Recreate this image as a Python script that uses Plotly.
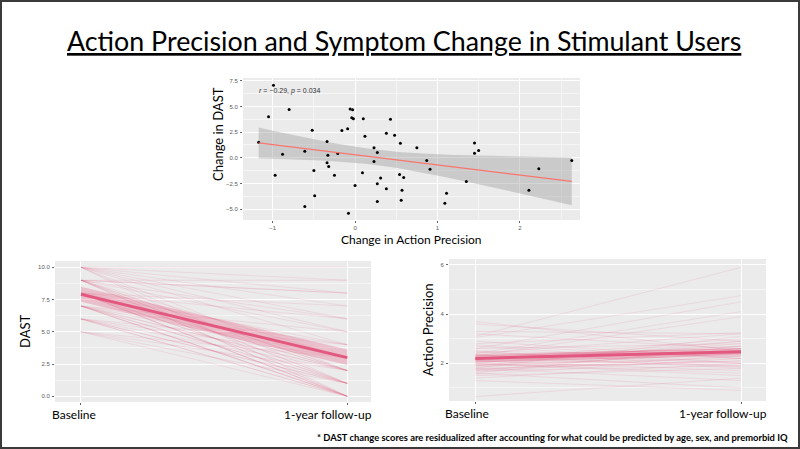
import numpy as np
import plotly.graph_objects as go

# ---------------- data ----------------
# Scatter: change in action precision vs change in DAST (residualized)
ap_change = [-0.99, -1.05, -0.80, -1.17, -0.88, -0.97, -0.52, -0.61, -0.50, -0.49,
             -0.61, -0.34, -0.33, -0.34, -0.32, -0.21, -0.25, -0.16, -0.09, -0.06,
             -0.03, -0.04, -0.02, 0.10, 0.12, 0.00, 0.09, -0.08, 0.23, 0.27,
             0.23, 0.27, 0.31, 0.27, 0.38, 0.43, 0.48, 0.38, 0.55, 0.54,
             0.59, 0.57, 0.56, 0.75, 0.87, 0.91, 1.11, 1.09, 1.35, 1.45,
             1.45, 1.50, 2.11, 2.23, 2.63]
dast_change = [7.06, 4.00, 4.71, 1.52, 0.35, -1.68, 2.68, 0.65, -1.23, -3.68,
               -4.74, 1.58, 0.26, -0.48, -0.84, 0.42, -1.68, 2.65, 2.84, 4.74,
               4.68, 3.90, 3.81, 3.81, 2.10, -2.68, -1.45, -5.39, 0.97, 0.52,
               -0.35, -2.52, -1.97, -4.23, 2.39, 3.74, 2.19, -3.00, 1.42, -1.61,
               -1.90, -3.16, -4.13, 0.97, -0.26, -1.10, -3.45, -4.42, -2.29, 1.45,
               0.45, 0.71, -3.16, -1.06, -0.26]
stat_text = "<i>r</i> = \u22120.29, <i>p</i> = 0.034"

timepoints = ["Baseline", "1-year follow-up"]

# DAST per subject
dast_base = [10]*10 + [9]*12 + [8]*12 + [7]*10 + [6]*7 + [5]*4
dast_follow = ([10, 9, 8, 7, 6, 5, 4, 2, 1, 0] +
               [9, 8, 8, 6, 5, 3, 2, 2, 1, 1, 0, 0] +
               [7, 6, 4, 3, 3, 2, 2, 1, 1, 0, 0, 0] +
               [5, 4, 3, 2, 2, 1, 1, 0, 0, 0] +
               [4, 3, 2, 1, 1, 0, 0] +
               [3, 2, 1, 0])
dast_mean = [7.9, 3.0]
dast_ci_lo = [7.33, 2.42]
dast_ci_hi = [8.5, 3.62]

# Action precision per subject
ap_base = [3.7, 3.6, 3.3, 3.2, 3.1, 3.05, 2.8, 2.75, 2.6, 2.5, 2.45, 2.4, 2.35, 2.3, 2.3,
           2.25, 2.2, 2.2, 2.15, 2.1, 2.1, 2.05, 2.0, 2.0, 1.95, 1.9, 1.9, 1.85, 1.8, 1.8,
           1.75, 1.7, 1.7, 1.65, 1.6, 1.6, 1.55, 1.5, 1.4, 1.3, 0.65, 2.9, 2.6, 2.4, 2.2,
           2.0, 1.9, 1.8, 2.5, 2.3, 2.1, 2.7, 1.75, 2.15, 1.95]
ap_follow = [2.5, 2.9, 3.2, 2.6, 5.9, 4.75, 3.25, 2.2, 4.5, 2.3, 2.0, 4.1, 1.8, 3.9, 2.6,
             2.4, 1.9, 2.7, 3.0, 1.7, 2.3, 2.5, 2.8, 1.5, 2.2, 2.9, 2.0, 2.4, 1.3, 3.1,
             2.1, 2.6, 1.9, 2.3, 1.0, 2.7, 2.2, 1.8, 2.0, 0.9, 1.4, 2.2, 2.8, 3.2, 2.5,
             1.6, 2.4, 2.1, 1.85, 2.6, 2.9, 2.0, 2.3, 2.7, 2.45]
ap_mean = [2.2, 2.47]
ap_ci_lo = [2.03, 2.34]
ap_ci_hi = [2.37, 2.61]

# ---------------- styling ----------------
W, H = 800, 449
SLIDE_FONT = "Lato"
TICK_FONT = dict(family="Liberation Sans", size=6, color="#5a5a5a")
PANEL_BG = "#EBEBEB"
PINK = "#E3587F"
PINK_THIN = "rgba(228,88,128,0.15)"
PINK_BAND = "rgba(228,88,128,0.30)"


def px(x):
    return x / W


def py(y):
    return 1 - y / H


fig = go.Figure()

# ---------- scatter panel ----------
xs = np.array(ap_change)
ys = np.array(dast_change)
n = len(xs)
slope, intercept = np.polyfit(xs, ys, 1)
resid = ys - (slope * xs + intercept)
s = np.sqrt(np.sum(resid ** 2) / (n - 2))
xm = xs.mean()
sxx = np.sum((xs - xm) ** 2)
t_crit = 2.006
gx = np.linspace(xs.min(), xs.max(), 80)
gy = slope * gx + intercept
se = s * np.sqrt(1 / n + (gx - xm) ** 2 / sxx)
lo = gy - t_crit * se
hi = gy + t_crit * se

fig.add_trace(go.Scatter(x=np.concatenate([gx, gx[::-1]]), y=np.concatenate([lo, hi[::-1]]),
                         fill="toself", fillcolor="rgba(153,153,153,0.40)", line=dict(width=0),
                         mode="lines", xaxis="x", yaxis="y", hoverinfo="skip", showlegend=False))
fig.add_trace(go.Scatter(x=xs, y=ys, mode="markers", marker=dict(color="black", size=3),
                         xaxis="x", yaxis="y", showlegend=False))
fig.add_trace(go.Scatter(x=gx, y=gy, mode="lines", line=dict(color="#F8766D", width=1.2),
                         xaxis="x", yaxis="y", showlegend=False))

# ---------- DAST panel ----------
for b, f in zip(dast_base, dast_follow):
    fig.add_trace(go.Scatter(x=timepoints, y=[b, f], mode="lines",
                             line=dict(color=PINK_THIN, width=0.9),
                             xaxis="x2", yaxis="y2", showlegend=False, hoverinfo="skip"))
fig.add_trace(go.Scatter(x=timepoints + timepoints[::-1], y=dast_ci_lo + dast_ci_hi[::-1],
                         fill="toself", fillcolor=PINK_BAND, line=dict(width=0), mode="lines",
                         xaxis="x2", yaxis="y2", showlegend=False, hoverinfo="skip"))
fig.add_trace(go.Scatter(x=timepoints, y=dast_mean, mode="lines", line=dict(color=PINK, width=3),
                         xaxis="x2", yaxis="y2", showlegend=False))

# ---------- Action precision panel ----------
for b, f in zip(ap_base, ap_follow):
    fig.add_trace(go.Scatter(x=timepoints, y=[b, f], mode="lines",
                             line=dict(color=PINK_THIN, width=0.9),
                             xaxis="x3", yaxis="y3", showlegend=False, hoverinfo="skip"))
fig.add_trace(go.Scatter(x=timepoints + timepoints[::-1], y=ap_ci_lo + ap_ci_hi[::-1],
                         fill="toself", fillcolor=PINK_BAND, line=dict(width=0), mode="lines",
                         xaxis="x3", yaxis="y3", showlegend=False, hoverinfo="skip"))
fig.add_trace(go.Scatter(x=timepoints, y=ap_mean, mode="lines", line=dict(color=PINK, width=3),
                         xaxis="x3", yaxis="y3", showlegend=False))

axis_common = dict(showline=False, zeroline=False, gridcolor="white", gridwidth=1,
                   ticks="outside", ticklen=2, tickwidth=0.6, tickcolor="#666",
                   tickfont=TICK_FONT, fixedrange=True)
minor_common = dict(showgrid=True, gridcolor="#F5F5F5", gridwidth=0.5, ticks="")

fig.update_layout(
    width=W, height=H, margin=dict(l=0, r=0, t=0, b=0),
    paper_bgcolor="white", plot_bgcolor=PANEL_BG, showlegend=False,
    xaxis=dict(domain=[px(243), px(580)], range=[-1.36, 2.73], anchor="y",
               tickvals=[-1, 0, 1, 2], minor=dict(tickvals=[-0.5, 0.5, 1.5, 2.5], **minor_common),
               ticklabelstandoff=0, **axis_common),
    yaxis=dict(domain=[py(220), py(78)], range=[-6.04, 7.76], anchor="x",
               tickvals=[-5, -2.5, 0, 2.5, 5, 7.5], tickformat=".1f",
               minor=dict(tickvals=[-3.75, -1.25, 1.25, 3.75, 6.25], **minor_common),
               ticklabelstandoff=1, **axis_common),
    xaxis2=dict(domain=[px(55), px(371)], range=[-0.0975, 1.089], anchor="y2", type="category",
                showticklabels=False, **axis_common),
    yaxis2=dict(domain=[py(402), py(261)], range=[-0.44, 10.49], anchor="x2",
                tickvals=[0, 2.5, 5, 7.5, 10], tickformat=".1f",
                minor=dict(tickvals=[1.25, 3.75, 6.25, 8.75], **minor_common),
                ticklabelstandoff=1, **axis_common),
    xaxis3=dict(domain=[px(449), px(766)], range=[-0.099, 1.094], anchor="y3", type="category",
                showticklabels=False, **axis_common),
    yaxis3=dict(domain=[py(401), py(259)], range=[0.47, 6.24], anchor="x3",
                tickvals=[2, 4, 6], minor=dict(tickvals=[1, 3, 5], **minor_common),
                ticklabelstandoff=1, **axis_common),
)


def note(text, x, y, size, xanchor="center", angle=0, bold=False, color="black"):
    fig.add_annotation(text=("<b>" + text + "</b>") if bold else text,
                       x=px(x), y=py(y), xref="paper", yref="paper",
                       xanchor=xanchor, yanchor="middle", textangle=angle, showarrow=False,
                       font=dict(family=SLIDE_FONT, size=size, color=color))


note("<u>Action Precision and Symptom Change in Stimulant Users</u>", 404, 41, 26.8)
note("Change in DAST", 218, 134, 13, angle=-90)
note("Change in Action Precision", 411, 239, 12)
note("DAST", 25, 332, 13, angle=-90)
note("Action Precision", 428, 330, 13, angle=-90)
note("Baseline", 74, 414, 12)
note("1-year follow-up", 328, 414, 12)
note("Baseline", 467, 413, 12)
note("1-year follow-up", 723, 413, 12)
note("* DAST change scores are residualized after accounting for what could be predicted by age, sex, and premorbid IQ",
     790, 437, 9.4, xanchor="right", bold=True)

# in-panel statistic label
fig.add_annotation(text=stat_text, x=-1.19, y=6.5, xref="x", yref="y", xanchor="left",
                   showarrow=False, font=dict(family="Liberation Sans", size=7, color="#333"))

# slide frame
fig.add_shape(type="rect", xref="paper", yref="paper", x0=px(1), x1=px(W - 1), y0=py(H - 1), y1=py(1),
              line=dict(color="#3a3a3a", width=2), fillcolor="rgba(0,0,0,0)", layer="above")

fig.write_html("out.html", config={"displayModeBar": False},
               post_script="document.body.style.margin='0';document.body.style.overflow='hidden';")
